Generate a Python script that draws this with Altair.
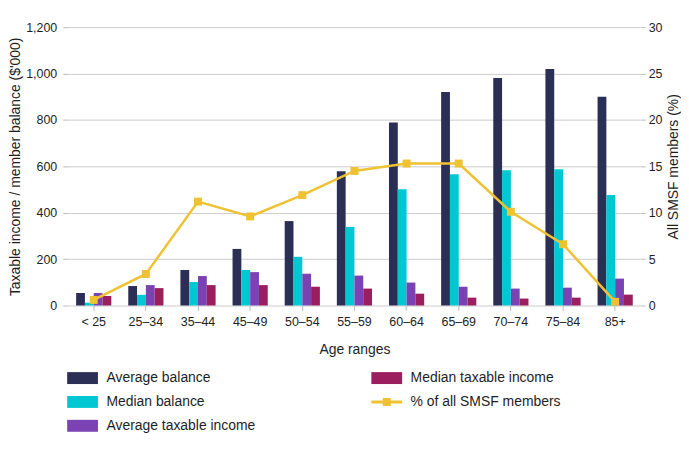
import altair as alt
import pandas as pd

ages = ["< 25", "25–34", "35–44", "45–49", "50–54", "55–59",
        "60–64", "65–69", "70–74", "75–84", "85+"]
avg_balance = [54, 84, 153, 244, 364, 579, 789, 921, 981, 1020, 900]
median_balance = [12, 46, 101, 153, 210, 339, 501, 566, 583, 587, 476]
avg_taxable = [54, 88, 127, 144, 137, 129, 99, 81, 73, 77, 116]
median_taxable = [41, 75, 88, 88, 81, 73, 51, 34, 30, 34, 47]
pct_members = [0.6, 3.4, 11.2, 9.6, 11.9, 14.5, 15.3, 15.3, 10.1, 6.6, 0.4]

bar_series = ["Average balance", "Median balance",
              "Average taxable income", "Median taxable income"]
pct_label = "% of all SMSF members"

NAVY, CYAN, PURPLE, MAROON, YELLOW = "#2C2F55", "#00C8D2", "#7A42B2", "#9B1F5E", "#EFC234"
legend_order = bar_series + [pct_label]
legend_colors = [NAVY, CYAN, PURPLE, MAROON, YELLOW]

RECT = "M-2.58,-1H2.58V1H-2.58Z"
LINESQ = "M-2.58,-0.25H2.58V0.25H-2.58Z M-0.67,-0.67H0.67V0.67H-0.67Z"
legend_shapes = [RECT, RECT, RECT, RECT, LINESQ]

rows = []
for name, vals in zip(bar_series, [avg_balance, median_balance, avg_taxable, median_taxable]):
    for a, v in zip(ages, vals):
        rows.append({"age": a, "series": name, "value": v})
bars_df = pd.DataFrame(rows)
line_df = pd.DataFrame({"age": ages, "pct": pct_members, "series": [pct_label] * len(ages)})
legend_df = pd.DataFrame({"series": legend_order})

FONT = "Liberation Sans"
TXT = "#1E1E1E"

color_scale = alt.Scale(domain=legend_order, range=legend_colors)
shape_scale = alt.Scale(domain=legend_order, range=legend_shapes)


def make_legend():
    return alt.Legend(
        title=None, orient="none", legendX=8, legendY=346,
        columns=2, columnPadding=116, rowPadding=10,
        symbolSize=144, symbolStrokeWidth=0, symbolOpacity=1,
        labelFont=FONT, labelFontSize=14, labelColor=TXT, labelOffset=17,
    )


x_enc = alt.X("age:N", sort=ages,
              scale=alt.Scale(paddingInner=0.325, paddingOuter=0.1625),
              axis=alt.Axis(title="Age ranges", labelAngle=0, domain=False,
                            ticks=True, tickSize=5, labelPadding=5, titlePadding=15))

bars = alt.Chart(bars_df).mark_bar().encode(
    x=x_enc,
    xOffset=alt.XOffset("series:N", sort=bar_series),
    y=alt.Y("value:Q", scale=alt.Scale(domain=[0, 1200]),
            axis=alt.Axis(title="Taxable income / member balance ($'000)",
                          values=[0, 200, 400, 600, 800, 1000, 1200], format=",.0f",
                          domain=False, tickSize=5, labelPadding=6, titlePadding=3)),
    color=alt.Color("series:N", scale=color_scale, legend=make_legend()),
)

pct_y = alt.Y("pct:Q", scale=alt.Scale(domain=[0, 30]),
              axis=alt.Axis(orient="right", title="All SMSF members (%)",
                            values=[0, 5, 10, 15, 20, 25, 30], grid=False, domain=False,
                            tickSize=4, labelPadding=3, titleAngle=270,
                            titleBaseline="top", titlePadding=5))

line = alt.Chart(line_df).mark_line(
    strokeWidth=2.5,
    point=alt.OverlayMarkDef(shape="square", size=64, filled=True, opacity=1),
).encode(
    x=alt.X("age:N", sort=ages),
    y=pct_y,
    color=alt.Color("series:N", scale=color_scale, legend=make_legend()),
)

legend_layer = alt.Chart(legend_df).mark_point(filled=True, opacity=1, size=144).encode(
    color=alt.Color("series:N", scale=color_scale, legend=make_legend()),
    shape=alt.Shape("series:N", scale=shape_scale, legend=make_legend()),
).transform_filter("false")

chart = alt.layer(bars, line, legend_layer).resolve_scale(y="independent").properties(
    width=577, height=280,
    padding={"left": 0, "top": 12, "right": 0, "bottom": 5},
).configure_view(strokeWidth=0).configure_axis(
    labelFont=FONT, labelFontSize=12.5, labelColor=TXT,
    titleFont=FONT, titleFontSize=14, titleFontWeight="normal", titleColor=TXT,
    gridColor="#CCCCCC", gridWidth=1, tickColor="#BBBBBB",
)

chart.save("out.html", embed_options={"renderer": "svg", "actions": False})
